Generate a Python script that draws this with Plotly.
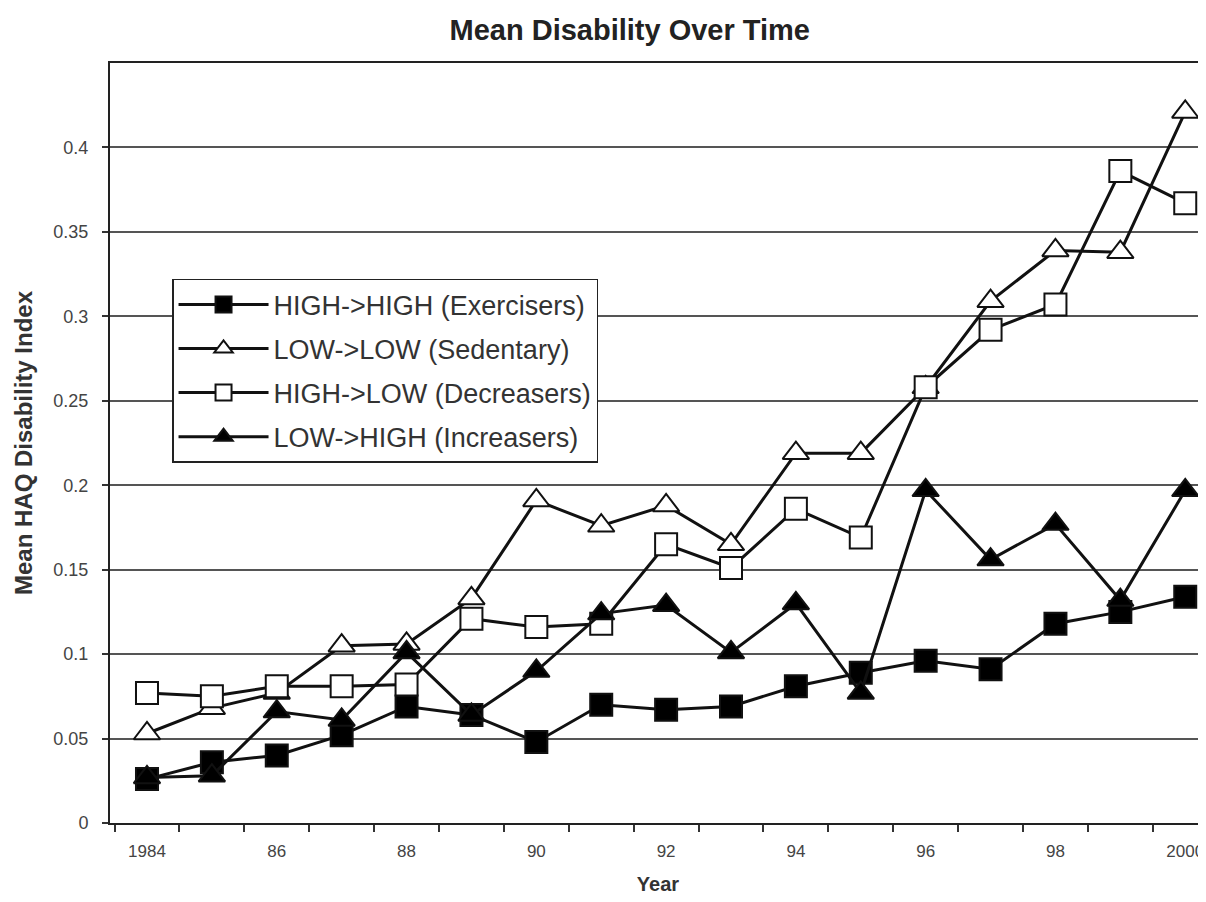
import plotly.graph_objects as go

years = list(range(1984, 2001))
tick_vals = [1984, 1986, 1988, 1990, 1992, 1994, 1996, 1998, 2000]
tick_text = ["1984", "86", "88", "90", "92", "94", "96", "98", "2000"]

high_high = [0.026, 0.036, 0.040, 0.052, 0.069, 0.064, 0.048, 0.070, 0.067,
             0.069, 0.081, 0.089, 0.096, 0.091, 0.118, 0.125, 0.134]
low_low = [0.053, 0.068, 0.077, 0.105, 0.106, 0.133, 0.191, 0.176, 0.188,
           0.165, 0.219, 0.219, 0.258, 0.309, 0.339, 0.338, 0.421]
high_low = [0.077, 0.075, 0.081, 0.081, 0.082, 0.121, 0.116, 0.118, 0.165,
            0.151, 0.186, 0.169, 0.258, 0.292, 0.307, 0.386, 0.367]
low_high = [0.027, 0.028, 0.066, 0.061, 0.101, 0.064, 0.090, 0.124, 0.129,
            0.101, 0.130, 0.077, 0.197, 0.156, 0.177, 0.132, 0.197]

series = [
    ("HIGH->HIGH (Exercisers)", high_high, "square", "black", 22),
    ("LOW->LOW (Sedentary)", low_low, "triangle-up", "white", 23),
    ("HIGH->LOW (Decreasers)", high_low, "square", "white", 22),
    ("LOW->HIGH (Increasers)", low_high, "triangle-up", "black", 23),
]

fig = go.Figure()
for i, (name, vals, sym, fill, size) in enumerate(series):
    fig.add_trace(go.Scatter(
        x=years, y=vals, name=name, mode="lines+markers",
        legendgroup=f"g{i}",
        line=dict(color="#111111", width=3),
        marker=dict(symbol=sym, size=size, color=fill,
                    line=dict(color="#111111", width=2)),
    ))

font_family = "Arial, Liberation Sans, sans-serif"
fig.update_layout(
    width=1198, height=894,
    margin=dict(l=102, r=0, t=55, b=79),
    paper_bgcolor="white", plot_bgcolor="white",
    font=dict(family=font_family, color="#333333"),
    title=dict(text="<b>Mean Disability Over Time</b>", x=0.519, xanchor="center",
               y=0.9755, yanchor="middle",
               font=dict(size=29, color="#222222", family=font_family)),
    showlegend=True,
    legend=dict(x=0.0566, y=0.716, xanchor="left", yanchor="top",
                bgcolor="white", bordercolor="#222222", borderwidth=1.5,
                font=dict(size=27, color="#333333", family=font_family),
                tracegroupgap=6, itemwidth=90),
    xaxis=dict(
        range=[1983.43, 2000.32],
        tickmode="array", tickvals=tick_vals, ticktext=tick_text,
        ticks="", showgrid=False, zeroline=False,
        showline=True, linecolor="#222222", linewidth=2, mirror=True,
        tickfont=dict(size=17, color="#444444"),
        ticklabelstandoff=12,
        minor=dict(tick0=1983.5, dtick=1, ticks="outside", ticklen=7,
                   tickcolor="#333333", tickwidth=1.5, showgrid=False),
        title=dict(text="<b>Year</b>", font=dict(size=20, color="#333333"),
                   standoff=17),
    ),
    yaxis=dict(
        range=[0, 0.45],
        tickmode="array",
        tickvals=[0, 0.05, 0.1, 0.15, 0.2, 0.25, 0.3, 0.35, 0.4],
        ticktext=["0", "0.05", "0.1", "0.15", "0.2", "0.25", "0.3", "0.35", "0.4"],
        ticks="outside", ticklen=6, tickcolor="#333333", tickwidth=1.5,
        ticklabelstandoff=10,
        showgrid=True, gridcolor="#555555", gridwidth=1.5, zeroline=False,
        showline=True, linecolor="#222222", linewidth=2,
        tickfont=dict(size=18, color="#444444"),
        title=dict(text="<b>Mean HAQ Disability Index</b>",
                   font=dict(size=24, color="#333333"), standoff=14),
    ),
)

fig.write_html("out.html")
